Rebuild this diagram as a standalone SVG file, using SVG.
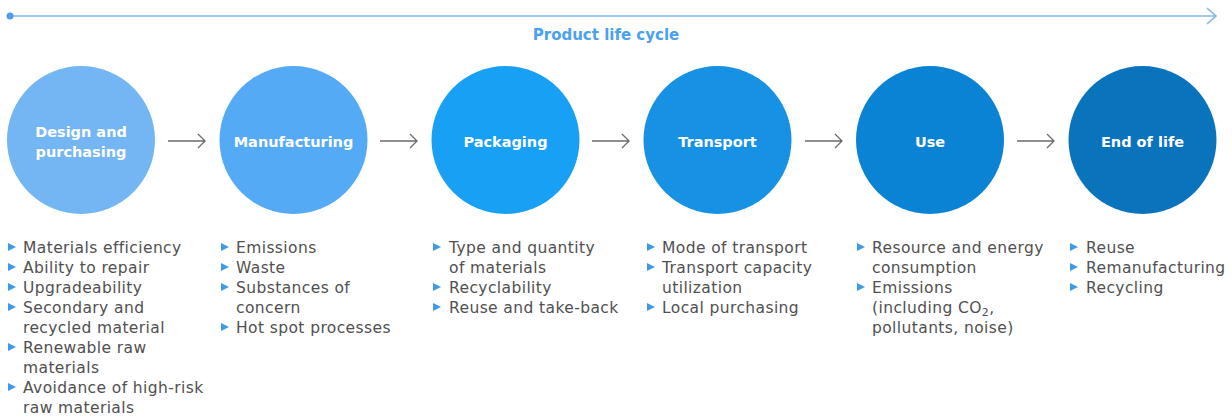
<svg xmlns="http://www.w3.org/2000/svg" width="1232" height="417" viewBox="0 0 1232 417">
  <style>
    .stage { font-family: "DejaVu Sans", "Liberation Sans", sans-serif; font-weight: bold; font-size: 14.5px; fill: #ffffff; text-anchor: middle; }
    .item { font-family: "DejaVu Sans", "Liberation Sans", sans-serif; font-size: 15.5px; letter-spacing: 0.4px; fill: #505050; }
    .title { font-family: "DejaVu Sans", "Liberation Sans", sans-serif; font-weight: bold; font-size: 15px; fill: #4aa2ee; text-anchor: middle; }
    .flow { fill: none; stroke: #6b6b6b; stroke-width: 1.3; }
    .timeline { fill: none; stroke: #82b7ec; stroke-width: 1.6; }
  </style>
  <defs>
    <path id="bullet" d="M0,-10 L8,-6 L0,-2 Z" fill="#3d9ae8"/>
  </defs>

  <rect width="1232" height="417" fill="#ffffff"/>

  <!-- timeline -->
  <g id="timeline">
    <line class="timeline" x1="10" y1="16" x2="1216" y2="16"/>
    <polyline class="timeline" points="1207,8 1216,16 1207,24"/>
    <circle cx="10" cy="16" r="3.5" fill="#4f9de6"/>
    <text class="title" x="606" y="40">Product life cycle</text>
  </g>

  <!-- connectors between stages -->
  <g id="connectors">
    <path class="flow" d="M168,141 H205 M198,134 L205,141 L198,148"/>
    <path class="flow" d="M380,141 H417 M410,134 L417,141 L410,148"/>
    <path class="flow" d="M592,141 H629 M622,134 L629,141 L622,148"/>
    <path class="flow" d="M805,141 H842 M835,134 L842,141 L835,148"/>
    <path class="flow" d="M1017,141 H1054 M1047,134 L1054,141 L1047,148"/>
  </g>

  <g id="design">
    <circle cx="81" cy="140" r="74" fill="#74b6f4"/>
    <text class="stage" x="81" y="137">Design and</text>
    <text class="stage" x="81" y="157">purchasing</text>
    <use href="#bullet" x="8" y="253"/>
    <use href="#bullet" x="8" y="273"/>
    <use href="#bullet" x="8" y="293"/>
    <use href="#bullet" x="8" y="313"/>
    <use href="#bullet" x="8" y="353"/>
    <use href="#bullet" x="8" y="393"/>
    <text class="item" x="23" y="253">Materials efficiency</text>
    <text class="item" x="23" y="273">Ability to repair</text>
    <text class="item" x="23" y="293">Upgradeability</text>
    <text class="item" x="23" y="313">Secondary and</text>
    <text class="item" x="23" y="333">recycled material</text>
    <text class="item" x="23" y="353">Renewable raw</text>
    <text class="item" x="23" y="373">materials</text>
    <text class="item" x="23" y="393">Avoidance of high-risk</text>
    <text class="item" x="23" y="413">raw materials</text>
  </g>

  <g id="manufacturing">
    <circle cx="293.5" cy="140" r="74" fill="#55aaf5"/>
    <text class="stage" x="293.5" y="147">Manufacturing</text>
    <use href="#bullet" x="221" y="253"/>
    <use href="#bullet" x="221" y="273"/>
    <use href="#bullet" x="221" y="293"/>
    <use href="#bullet" x="221" y="333"/>
    <text class="item" x="236" y="253">Emissions</text>
    <text class="item" x="236" y="273">Waste</text>
    <text class="item" x="236" y="293">Substances of</text>
    <text class="item" x="236" y="313">concern</text>
    <text class="item" x="236" y="333">Hot spot processes</text>
  </g>

  <g id="packaging">
    <circle cx="505.5" cy="140" r="74" fill="#18a0f4"/>
    <text class="stage" x="505.5" y="147">Packaging</text>
    <use href="#bullet" x="433" y="253"/>
    <use href="#bullet" x="433" y="293"/>
    <use href="#bullet" x="433" y="313"/>
    <text class="item" x="449" y="253">Type and quantity</text>
    <text class="item" x="449" y="273">of materials</text>
    <text class="item" x="449" y="293">Recyclability</text>
    <text class="item" x="449" y="313">Reuse and take-back</text>
  </g>

  <g id="transport">
    <circle cx="717.5" cy="140" r="74" fill="#1691e4"/>
    <text class="stage" x="717.5" y="147">Transport</text>
    <use href="#bullet" x="647" y="253"/>
    <use href="#bullet" x="647" y="273"/>
    <use href="#bullet" x="647" y="313"/>
    <text class="item" x="662" y="253">Mode of transport</text>
    <text class="item" x="662" y="273">Transport capacity</text>
    <text class="item" x="662" y="293">utilization</text>
    <text class="item" x="662" y="313">Local purchasing</text>
  </g>

  <g id="use">
    <circle cx="930" cy="140" r="74" fill="#0b83d5"/>
    <text class="stage" x="930" y="147">Use</text>
    <use href="#bullet" x="857" y="253"/>
    <use href="#bullet" x="857" y="293"/>
    <text class="item" x="872" y="253">Resource and energy</text>
    <text class="item" x="872" y="273">consumption</text>
    <text class="item" x="872" y="293">Emissions</text>
    <text class="item" x="872" y="313">(including CO<tspan font-size="11" dy="3">2</tspan><tspan dy="-3">,</tspan></text>
    <text class="item" x="872" y="333">pollutants, noise)</text>
  </g>

  <g id="end-of-life">
    <circle cx="1142.5" cy="140" r="74" fill="#0973bb"/>
    <text class="stage" x="1142.5" y="147">End of life</text>
    <use href="#bullet" x="1070" y="253"/>
    <use href="#bullet" x="1070" y="273"/>
    <use href="#bullet" x="1070" y="293"/>
    <text class="item" x="1086" y="253">Reuse</text>
    <text class="item" x="1086" y="273">Remanufacturing</text>
    <text class="item" x="1086" y="293">Recycling</text>
  </g>
</svg>
